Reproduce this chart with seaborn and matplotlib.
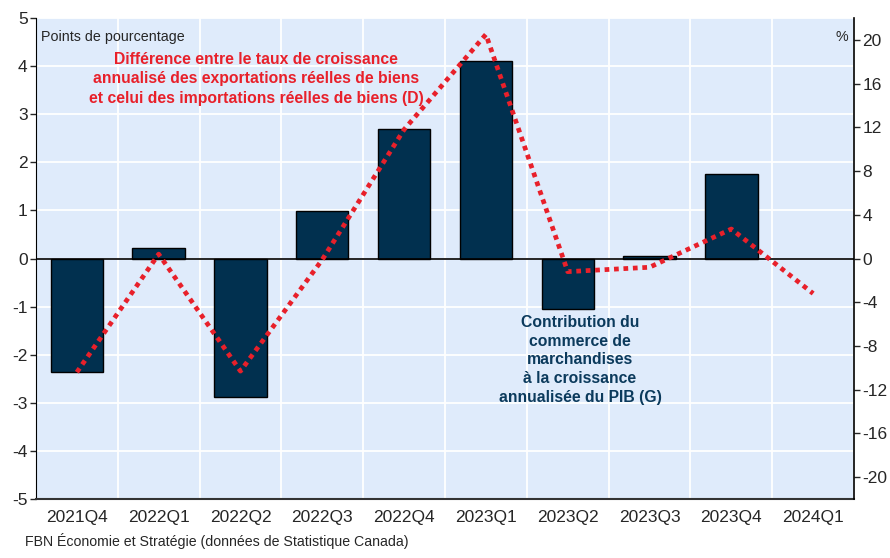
import numpy as np
import pandas as pd
import matplotlib
matplotlib.use("Agg")
import matplotlib.pyplot as plt
import seaborn as sns

# données
trimestres = ["2021Q4", "2022Q1", "2022Q2", "2022Q3", "2022Q4",
              "2023Q1", "2023Q2", "2023Q3", "2023Q4", "2024Q1"]
contribution_g = [-2.35, 0.21, -2.87, 0.98, 2.70, 4.10, -1.04, 0.06, 1.75, np.nan]
difference_d = [-10.4, 0.4, -10.3, -0.1, 11.8, 20.5, -1.2, -0.8, 2.7, -3.2]

ticks_g = [5, 4, 3, 2, 1, 0, -1, -2, -3, -4, -5]
ticks_d = [20, 16, 12, 8, 4, 0, -4, -8, -12, -16, -20]

df = pd.DataFrame({"trimestre": trimestres, "G": contribution_g, "D": difference_d})
df["pos"] = np.arange(len(trimestres))

sns.set_style("white")
plt.rcParams["font.family"] = ["Liberation Sans", "DejaVu Sans"]

fig = plt.figure(figsize=(8.9, 5.58), dpi=100)
ax = fig.add_axes([0.0404, 0.1057, 0.9192, 0.862])
ax.set_facecolor("#dfebfb")

# barres (axe de gauche)
sns.barplot(data=df, x="trimestre", y="G", order=trimestres, color="#01304f",
            saturation=1, width=0.64, edgecolor="black", linewidth=1, ax=ax, zorder=3)
ax.axhline(0, color="black", lw=1.2, zorder=4)

ax.set_ylim(-5, 5)
ax.set_xlim(-0.5, len(trimestres) - 0.5)
ax.set_yticks(ticks_g)
ax.set_yticklabels([str(t) for t in ticks_g], fontsize=12.5)
ax.set_xticks(np.arange(len(trimestres) + 1) - 0.5)
ax.set_xticklabels([])
ax.set_xticks(np.arange(len(trimestres)), minor=True)
ax.set_xticklabels(trimestres, minor=True, fontsize=12.5)
ax.tick_params(axis="x", which="minor", length=0, pad=8)
ax.tick_params(axis="x", which="major", length=5, width=1, direction="out", color="#333333")
ax.tick_params(axis="y", length=4, width=1, direction="out", pad=2)
ax.grid(True, which="major", color="white", lw=1.3, zorder=0)
ax.set_axisbelow(True)
ax.set_xlabel("")
ax.set_ylabel("")
for s in ["top", "right"]:
    ax.spines[s].set_visible(False)
ax.spines["left"].set_color("black")
ax.spines["bottom"].set_color("#333333")
ax.spines["bottom"].set_linewidth(1.5)

# ligne (axe de droite)
ax2 = ax.twinx()
sns.lineplot(data=df, x="pos", y="D", color="#e8202a", lw=3.4, ax=ax2, zorder=5)
ax2.lines[0].set_linestyle((0, (1, 1)))
ax2.set_ylim(-22, 22)
ax2.set_yticks(ticks_d)
ax2.set_yticklabels([str(t) for t in ticks_d], fontsize=12.5)
ax2.tick_params(axis="y", length=4, width=1, direction="out", pad=2)
ax2.set_ylabel("")
ax2.set_xlabel("")
ax2.set_xlim(-0.5, len(trimestres) - 0.5)
for s in ["top", "left", "bottom"]:
    ax2.spines[s].set_visible(False)
ax2.spines["right"].set_color("black")
ax2.spines["right"].set_linewidth(1.2)

# textes
ax.text(0.006, 0.975, "Points de pourcentage", transform=ax.transAxes,
        fontsize=10.3, ha="left", va="top")
ax.text(0.993, 0.975, "%", transform=ax.transAxes, fontsize=10.3, ha="right", va="top")
ax.text(0.269, 0.930, "Différence entre le taux de croissance\n"
        "annualisé des exportations réelles de biens\n"
        "et celui des importations réelles de biens (D)",
        transform=ax.transAxes, color="#e8202a", fontsize=11.3, fontweight="bold",
        ha="center", va="top", linespacing=1.39)
ax.text(0.665, 0.383, "Contribution du\ncommerce de\nmarchandises\nà la croissance\n"
        "annualisée du PIB (G)", transform=ax.transAxes, color="#0b3a5c",
        fontsize=11.3, fontweight="bold", ha="center", va="top", linespacing=1.32)

fig.text(0.028, 0.017, "FBN Économie et Stratégie (données de Statistique Canada)",
         fontsize=10.2, ha="left", va="bottom")

fig.savefig("out.png", dpi=100)
